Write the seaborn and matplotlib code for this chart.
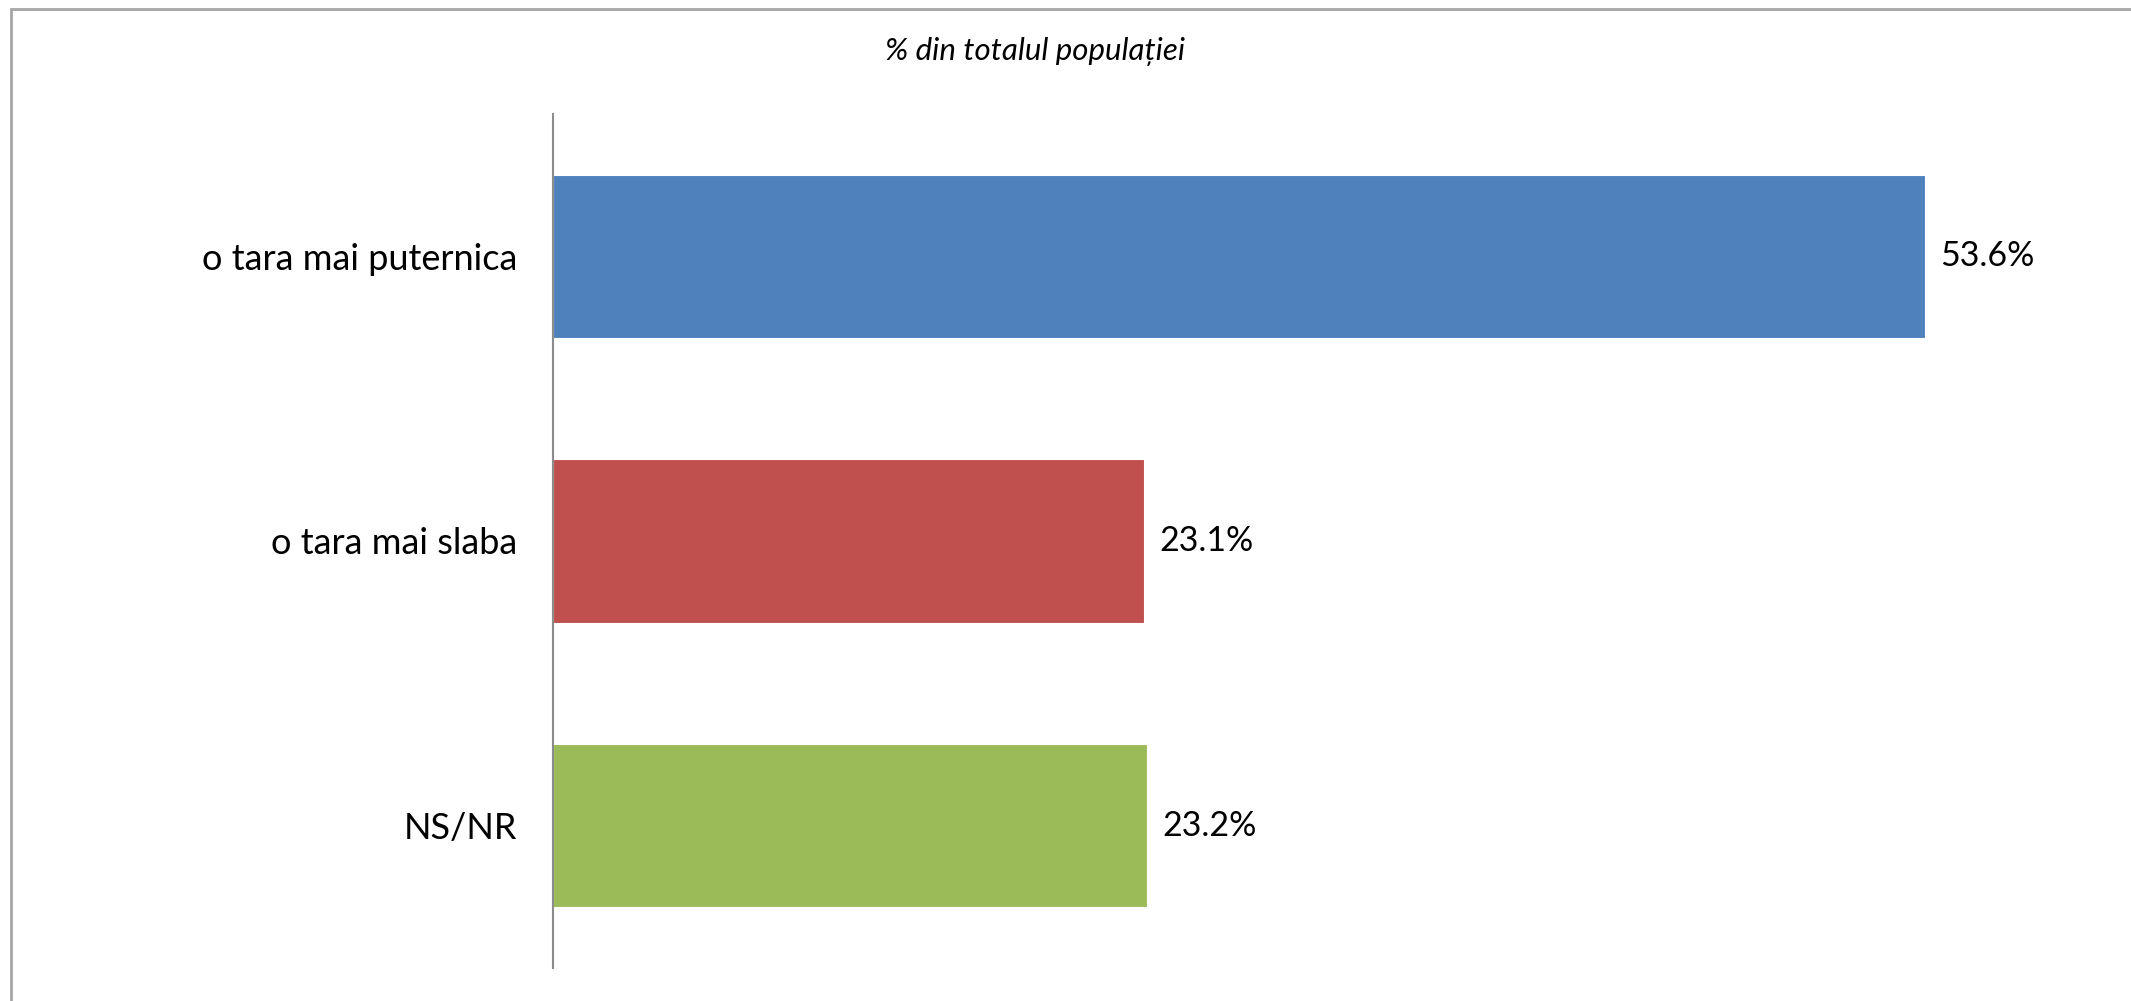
import pandas as pd
import seaborn as sns
import matplotlib
matplotlib.use('Agg')
import matplotlib.pyplot as plt
from matplotlib.patches import Rectangle

# data
categories = ["o tara mai puternica", "o tara mai slaba", "NS/NR"]
values = [53.6, 23.1, 23.2]
colors = ["#4F81BD", "#C0504D", "#9BBB59"]
title = "% din totalul populației"

df = pd.DataFrame({"cat": categories, "val": values})

sns.set_theme(style="white")
plt.rcParams['font.family'] = ['Lato', 'DejaVu Sans']

W, H = 2131, 1001
fig = plt.figure(figsize=(W / 100, H / 100), dpi=100)
ax = fig.add_axes([553 / W, 1 - 968 / H, (2089 - 553) / W, (968 - 114) / H])

sns.barplot(data=df, x="val", y="cat", hue="cat", palette=colors,
            orient="h", width=0.573, legend=False, ax=ax, saturation=1,
            edgecolor="white", linewidth=0.8)

ax.set_xlim(0, 60)
ax.set_ylim(2.5, -0.5)
ax.set_xlabel("")
ax.set_ylabel("")
ax.set_xticks([])
for side in ["top", "right", "bottom"]:
    ax.spines[side].set_visible(False)
ax.spines["left"].set_color("#8C8C8C")
ax.spines["left"].set_linewidth(1.5)
ax.tick_params(axis="y", length=0, pad=26, labelsize=26, colors="black")

# value labels
for c in ax.containers:
    ax.bar_label(c, labels=[f"{v:.1f}%" for v in c.datavalues],
                 padding=11, fontsize=24.5, color="black")

fig.text(1035 / W, 1 - 52 / H, title, ha="center", va="center",
         fontsize=22.5, style="italic", color="black")

# chart frame (top and left visible)
fig.patches.append(Rectangle((11 / W, -0.1), 1.2, 1.1 - 9 / H,
                             transform=fig.transFigure, fill=False,
                             edgecolor="#A6A6A6", linewidth=2))

fig.savefig("out.png", dpi=100)
